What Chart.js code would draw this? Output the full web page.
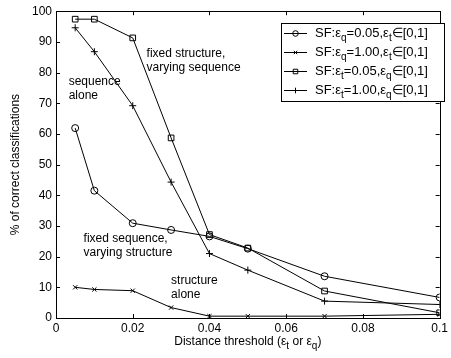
<!DOCTYPE html>
<html>
<head>
<meta charset="utf-8">
<script src="https://cdn.jsdelivr.net/npm/chart.js@4"></script>
<style>
  html, body { margin: 0; padding: 0; background: #fff; }
  #wrap { width: 451px; height: 358px; }
</style>
</head>
<body>
<div id="wrap"><canvas id="chart1"></canvas></div>
<script>
// Setup
const thresholds = [0.005, 0.01, 0.02, 0.03, 0.04, 0.05, 0.07, 0.1];
const sfQ005 = [61.9, 41.5, 30.9, 28.7, 26.6, 22.6, 13.6, 6.7];
const sfQ100 = [10.0, 9.3, 8.9, 3.4, 0.6, 0.6, 0.6, 1.2];
const sfT005 = [97.4, 97.4, 91.3, 58.7, 27.2, 22.8, 8.8, 1.7];
const sfT100 = [94.6, 86.8, 69.2, 44.3, 21.0, 15.6, 5.5, 4.4];

const xTicks = [0, 0.02, 0.04, 0.06, 0.08, 0.1];
const yTicks = [0, 10, 20, 30, 40, 50, 60, 70, 80, 90, 100];

// legend labels: [text, subscript] pairs
const legendLabels = [
  [['SF:\u03b5', 0], ['q', 1], ['=0.05,\u03b5', 0], ['t', 1], ['\u2208[0,1]', 0]],
  [['SF:\u03b5', 0], ['q', 1], ['=1.00,\u03b5', 0], ['t', 1], ['\u2208[0,1]', 0]],
  [['SF:\u03b5', 0], ['t', 1], ['=0.05,\u03b5', 0], ['q', 1], ['\u2208[0,1]', 0]],
  [['SF:\u03b5', 0], ['t', 1], ['=1.00,\u03b5', 0], ['q', 1], ['\u2208[0,1]', 0]]
];

// text notes placed in data units
const notes = [
  { x: 0.0236, y: 86, lines: ['fixed structure,', 'varying sequence'] },
  { x: 0.0033, y: 77, lines: ['sequence', 'alone'] },
  { x: 0.0072, y: 26, lines: ['fixed sequence,', 'varying structure'] },
  { x: 0.0300, y: 12, lines: ['structure', 'alone'] }
];

const FONT = '"Liberation Sans", Arial, sans-serif';

function toPoints(ys) {
  return ys.map((y, i) => ({ x: thresholds[i], y: y }));
}

function makeSet(label, ys, style, r) {
  return {
    label: label,
    data: toPoints(ys),
    borderColor: '#000',
    borderWidth: 1,
    pointStyle: style,
    pointRadius: r,
    pointBorderColor: '#000',
    pointBorderWidth: 1,
    pointBackgroundColor: 'rgba(0,0,0,0)',
    tension: 0
  };
}

// draws text with subscripts, returns width
function richText(ctx, x, y, parts, size, measureOnly) {
  let cx = x;
  parts.forEach(([s, sub]) => {
    const fs = sub ? Math.round(size * 0.8) : size;
    ctx.font = fs + 'px ' + FONT;
    if (!measureOnly) ctx.fillText(s, cx, sub ? y + size * 0.38 : y);
    cx += ctx.measureText(s).width;
  });
  return cx - x;
}

const decor = {
  id: 'decor',
  afterDatasetsDraw(chart) {
    const ctx = chart.ctx;
    const a = chart.chartArea;
    const xs = chart.scales.x, ys = chart.scales.y;
    ctx.save();
    ctx.strokeStyle = '#000';
    ctx.fillStyle = '#000';
    ctx.lineWidth = 1;

    // frame
    ctx.strokeRect(Math.round(a.left) + 0.5, Math.round(a.top) + 0.5,
      Math.round(a.right - a.left), Math.round(a.bottom - a.top));

    // inward ticks on all sides
    const tl = 4;
    ctx.beginPath();
    yTicks.forEach(v => {
      const py = Math.round(ys.getPixelForValue(v)) + 0.5;
      ctx.moveTo(a.left, py); ctx.lineTo(a.left + tl, py);
      ctx.moveTo(a.right, py); ctx.lineTo(a.right - tl, py);
    });
    xTicks.forEach(v => {
      const px = Math.round(xs.getPixelForValue(v)) + 0.5;
      ctx.moveTo(px, a.bottom); ctx.lineTo(px, a.bottom - tl);
      ctx.moveTo(px, a.top); ctx.lineTo(px, a.top + tl);
    });
    ctx.stroke();

    // notes
    ctx.textBaseline = 'middle';
    ctx.textAlign = 'left';
    ctx.font = '12px ' + FONT;
    notes.forEach(n => {
      const px = xs.getPixelForValue(n.x);
      const py = ys.getPixelForValue(n.y);
      n.lines.forEach((t, i) => ctx.fillText(t, px, py + i * 14));
    });

    // legend box
    const lx = 281, ly = 23, lw = 163, lh = 78;
    ctx.fillStyle = '#fff';
    ctx.fillRect(lx, ly, lw, lh);
    ctx.strokeRect(lx + 0.5, ly + 0.5, lw, lh);
    chart.data.datasets.forEach((ds, i) => {
      const ry = ly + 10 + i * 19;
      ctx.beginPath();
      ctx.moveTo(lx + 3, ry + 0.5); ctx.lineTo(lx + 26, ry + 0.5);
      ctx.stroke();
      ctx.fillStyle = 'rgba(0,0,0,0)';
      Chart.helpers.drawPoint(ctx, {
        pointStyle: ds.pointStyle, radius: ds.pointRadius * 0.8, borderWidth: 1
      }, lx + 14.5, ry + 0.5);
      ctx.fillStyle = '#000';
      ctx.textBaseline = 'middle';
      richText(ctx, lx + 34, ry, legendLabels[i], 13);
    });

    // x title with subscripts
    const xt = [['Distance threshold (\u03b5', 0], ['t', 1], [' or \u03b5', 0], ['q', 1], [')', 0]];
    ctx.textBaseline = 'middle';
    const w = richText(ctx, 0, 0, xt, 12, true);
    richText(ctx, (a.left + a.right) / 2 - w / 2, 342, xt, 12);
    ctx.restore();
  }
};

const data = {
  datasets: [
    makeSet('SF q=0.05', sfQ005, 'circle', 3.5),
    makeSet('SF q=1.00', sfQ100, 'crossRot', 3),
    makeSet('SF t=0.05', sfT005, 'rect', 4),
    makeSet('SF t=1.00', sfT100, 'cross', 3.5)
  ]
};

// config do grafico
const config = {
  type: 'line',
  data: data,
  options: {
    responsive: true,
    maintainAspectRatio: false,
    animation: false,
    layout: { padding: { top: 10, right: 4, left: 0, bottom: 0 }, autoPadding: false },
    plugins: {
      legend: { display: false },
      tooltip: { enabled: false }
    },
    scales: {
      x: {
        type: 'linear',
        min: 0, max: 0.1,
        afterFit: s => { s.height = 40; },
        afterBuildTicks: s => { s.ticks = xTicks.map(v => ({ value: v })); },
        grid: { display: false, drawTicks: false },
        border: { display: false },
        ticks: {
          color: '#000', padding: 3, maxRotation: 0, autoSkip: false,
          font: { family: FONT, size: 12 },
          callback: v => String(Number(v.toFixed(2)))
        }
      },
      y: {
        min: 0, max: 100,
        afterFit: s => { s.width = 56; },
        afterBuildTicks: s => { s.ticks = yTicks.map(v => ({ value: v })); },
        grid: { display: false, drawTicks: false },
        border: { display: false },
        title: {
          display: true, text: '% of correct classifications', color: '#000',
          font: { family: FONT, size: 12 }, padding: { top: 8, bottom: 0 }
        },
        ticks: { color: '#000', padding: 4, font: { family: FONT, size: 12 } }
      }
    }
  },
  plugins: [decor]
};

const myChart = new Chart(document.getElementById('chart1'), config);
</script>
</body>
</html>
